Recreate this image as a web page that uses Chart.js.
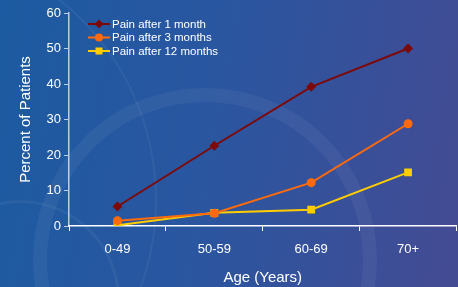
<!DOCTYPE html>
<html>
<head>
<meta charset="utf-8">
<script src="https://cdn.jsdelivr.net/npm/chart.js@4"></script>
<style>
  html, body { margin: 0; padding: 0; overflow: hidden; }
  body {
    width: 458px; height: 287px; position: relative;
    background: linear-gradient(100deg, #1c5ba1 0%, #2a56a0 45%, #3a4f98 80%, #444b93 100%);
  }
  .ring { position: absolute; box-sizing: border-box; border-radius: 50%; border-style: solid; border-color: rgba(255,255,255,0.05); }
  #wrap { position: absolute; left: 0; top: 0; width: 462px; height: 287px; }
</style>
</head>
<body>
<div class="ring" style="left:33px; top:88px; width:344px; height:344px; border-width:14px;"></div>
<div class="ring" style="left:-357px; top:-57px; width:514px; height:514px; border-width:2px;"></div>
<div class="ring" style="left:-80px; top:200px; width:200px; height:200px; border-width:3px;"></div>
<div id="wrap"><canvas id="myChart" width="462" height="287"></canvas></div>
<script>
const ageGroups = ['0-49', '50-59', '60-69', '70+'];
const pain1Month = [5.5, 22.6, 39.2, 50];
const pain3Months = [1.5, 3.6, 12.2, 28.8];
const pain12Months = [0.2, 3.7, 4.6, 15.1];
const yTicks = [0, 10, 20, 30, 40, 50, 60];

const seriesInfo = [
  { label: 'Pain after 1 month', data: pain1Month, color: '#7d0a0a', style: 'rectRot', radius: 5 },
  { label: 'Pain after 3 months', data: pain3Months, color: '#ff6a0d', style: 'circle', radius: 4.5 },
  { label: 'Pain after 12 months', data: pain12Months, color: '#ffcc00', style: 'rect', radius: 5.5 }
];

// legend drawn inside the plot, top-left
const innerLegend = {
  id: 'innerLegend',
  afterDraw(chart) {
    const ctx = chart.ctx;
    ctx.save();
    ctx.font = '11.5px "Liberation Sans", Arial, sans-serif';
    ctx.textBaseline = 'middle';
    seriesInfo.forEach((s, i) => {
      const y = 24 + i * 13.5;
      ctx.strokeStyle = s.color;
      ctx.lineWidth = 2;
      ctx.beginPath();
      ctx.moveTo(88, y);
      ctx.lineTo(110, y);
      ctx.stroke();
      ctx.fillStyle = s.color;
      Chart.helpers.drawPoint(ctx, { pointStyle: s.style, radius: s.radius * 0.9, borderWidth: 0 }, 99, y);
      ctx.fillStyle = '#ffffff';
      ctx.fillText(s.label, 112, y + 0.5);
    });
    ctx.restore();
  }
};

const font = { size: 13, family: '"Liberation Sans", Arial, sans-serif' };
const titleFont = { size: 15, family: '"Liberation Sans", Arial, sans-serif' };

const ctx = document.getElementById('myChart');

new Chart(ctx, {
  type: 'line',
  data: {
    labels: ageGroups,
    datasets: seriesInfo.map(s => ({
      label: s.label,
      data: s.data,
      borderColor: s.color,
      backgroundColor: s.color,
      borderWidth: 2,
      pointStyle: s.style,
      pointRadius: s.radius,
      pointBorderWidth: 0,
      tension: 0
    }))
  },
  options: {
    responsive: false,
    animation: false,
    layout: { padding: { top: 13, right: 0, left: 0, bottom: 0 } },
    plugins: { legend: { display: false }, tooltip: { enabled: false } },
    scales: {
      x: {
        offset: true,
        grid: { offset: true, drawOnChartArea: false, color: '#ffffff', tickLength: 5 },
        border: { color: '#ffffff', width: 1.5 },
        ticks: { color: '#ffffff', font: font, padding: 11 },
        title: { display: true, text: 'Age (Years)', color: '#ffffff', font: titleFont, padding: { top: 14, bottom: 0 } },
        afterFit(scale) { scale.height = 61; }
      },
      y: {
        min: 0,
        max: 60,
        afterBuildTicks(scale) { scale.ticks = yTicks.map(v => ({ value: v })); },
        grid: { drawOnChartArea: false, color: 'rgba(255,255,255,0.7)', tickLength: 5 },
        border: { color: 'rgba(255,255,255,0.7)', width: 1.5 },
        ticks: { color: '#ffffff', font: font, padding: 3 },
        title: { display: true, text: 'Percent of Patients', color: '#ffffff', font: titleFont, padding: { top: 17, bottom: 4 } },
        afterFit(scale) { scale.width = 69; }
      }
    }
  },
  plugins: [innerLegend]
});
</script>
</body>
</html>
